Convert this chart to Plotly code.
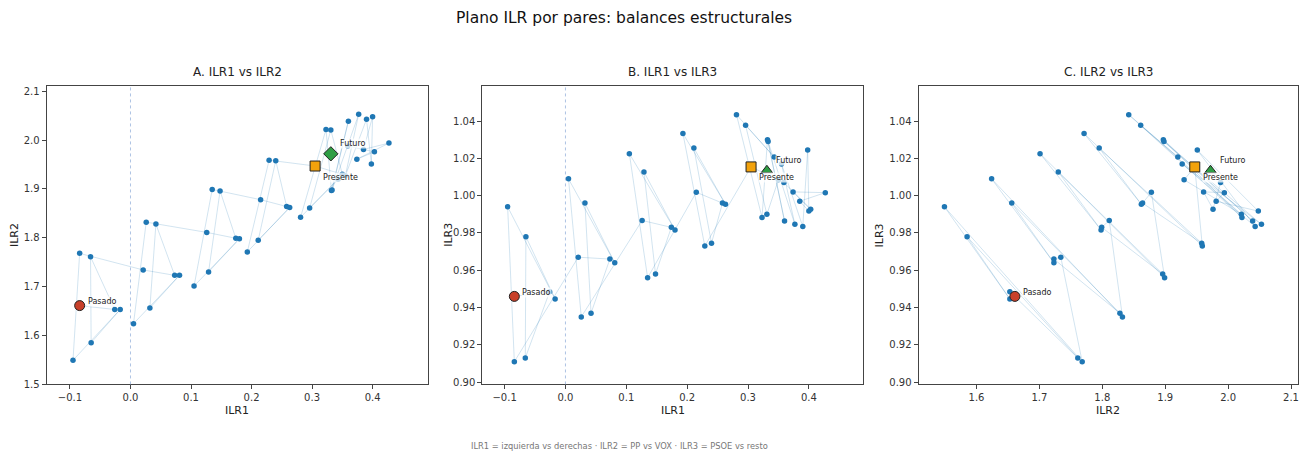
import plotly.graph_objects as go

# ---- data: trajectory of ILR coordinates (time order) ----
ilr1 = [-0.084, -0.026, -0.066, -0.065, -0.017, -0.095, -0.084,
        0.021, 0.073, 0.042, 0.032, 0.081, 0.005, 0.026,
        0.126, 0.174, 0.148, 0.129, 0.180, 0.105, 0.135,
        0.215, 0.258, 0.240, 0.211, 0.263, 0.193, 0.229,
        0.305, 0.350, 0.331, 0.296, 0.343, 0.281, 0.323,
        0.332, 0.360, 0.333, 0.377, 0.355, 0.390, 0.398, 0.400,
        0.385, 0.427, 0.374, 0.403, 0.359]
ilr2 = [1.661, 1.653, 1.761, 1.585, 1.653, 1.549, 1.768,
        1.734, 1.723, 1.828, 1.656, 1.723, 1.624, 1.832,
        1.811, 1.799, 1.896, 1.730, 1.798, 1.701, 1.899,
        1.878, 1.864, 1.958, 1.795, 1.862, 1.771, 1.959,
        1.947, 1.930, 2.021, 1.861, 1.920, 1.842, 2.022,
        1.897, 2.039, 1.898, 2.053, 1.927, 2.043, 1.951, 2.048,
        1.981, 1.994, 1.961, 1.976, 1.988]
ilr3 = [0.946, 0.9485, 0.913, 0.978, 0.9446, 0.994, 0.911,
        0.967, 0.966, 0.937, 0.996, 0.964, 1.009, 0.935,
        0.9867, 0.983, 0.958, 1.0127, 0.9816, 1.0225, 0.956,
        1.0018, 0.996, 0.9745, 1.0255, 0.9954, 1.0333, 0.973,
        1.0154, 1.0085, 0.990, 1.0377, 1.0207, 1.0434, 0.9883,
        1.030, 0.9864, 1.029, 0.9846, 1.017, 0.9834, 1.0244, 0.9917,
        0.997, 1.0016, 1.002, 0.9927, 1.007]

# ---- highlighted states ----
state_names = ["Pasado", "Presente", "Futuro"]
state_ilr1 = [-0.084, 0.305, 0.331]
state_ilr2 = [1.661, 1.947, 1.972]
state_ilr3 = [0.946, 1.0154, 1.0136]

panel_titles = ["A. ILR1 vs ILR2", "B. ILR1 vs ILR3", "C. ILR2 vs ILR3"]
axis_names = [("ILR1", "ILR2"), ("ILR1", "ILR3"), ("ILR2", "ILR3")]
footer = "ILR1 = izquierda vs derechas · ILR2 = PP vs VOX · ILR3 = PSOE vs resto"
title = "Plano ILR por pares: balances estructurales"

W, H = 1309, 457
FONT = "DejaVu Sans"

data_by_name = {"ILR1": ilr1, "ILR2": ilr2, "ILR3": ilr3}
state_by_name = {"ILR1": state_ilr1, "ILR2": state_ilr2, "ILR3": state_ilr3}

# layout geometry (pixels)
x_doms_px = [(46.7, 428.0), (482.7, 864.0), (919.3, 1299.3)]
y_dom_px = (86.7, 388.7)
x_ranges = [[-0.1385, 0.491], [-0.1366, 0.4895], [1.5079, 2.1116]]
y_ranges = [[1.4994, 2.1115], [0.8988, 1.0589], [0.8988, 1.0589]]
x_ticks = [[-0.1, 0.0, 0.1, 0.2, 0.3, 0.4], [-0.1, 0.0, 0.1, 0.2, 0.3, 0.4],
           [1.6, 1.7, 1.8, 1.9, 2.0, 2.1]]
y_ticks = [[1.5, 1.6, 1.7, 1.8, 1.9, 2.0, 2.1],
           [0.90, 0.92, 0.94, 0.96, 0.98, 1.00, 1.02, 1.04],
           [0.90, 0.92, 0.94, 0.96, 0.98, 1.00, 1.02, 1.04]]
x_fmt = [".1f", ".1f", ".1f"]
y_fmt = [".1f", ".2f", ".2f"]
ytitle_x_px = [14, 448, 880]

futuro_symbol = ["diamond", "triangle-up", "triangle-up"]
futuro_size = [11, 10, 10]
state_colors = ["#c8402a", "#f2a20c", "#2e9e44"]

fig = go.Figure()
annotations = []
shapes = []
ydom = [(H - y_dom_px[1]) / H, (H - y_dom_px[0]) / H]

for i in range(3):
    ax = "" if i == 0 else str(i + 1)
    xn, yn = axis_names[i]
    xs, ys = data_by_name[xn], data_by_name[yn]
    sx, sy = state_by_name[xn], state_by_name[yn]
    xref, yref = "x" + ax, "y" + ax

    fig.add_trace(go.Scatter(x=xs, y=ys, mode="lines", xaxis=xref, yaxis=yref,
                             line=dict(color="rgba(31,119,180,0.2)", width=1),
                             hoverinfo="skip", showlegend=False))
    fig.add_trace(go.Scatter(x=xs, y=ys, mode="markers", xaxis=xref, yaxis=yref,
                             marker=dict(color="#1f77b4", size=5.5),
                             showlegend=False))
    symbols = ["circle", "square", futuro_symbol[i]]
    sizes = [10, 10, futuro_size[i]]
    for k in range(3):
        fig.add_trace(go.Scatter(x=[sx[k]], y=[sy[k]], mode="markers",
                                 xaxis=xref, yaxis=yref,
                                 marker=dict(color=state_colors[k], size=sizes[k],
                                             symbol=symbols[k],
                                             line=dict(color="#222", width=1)),
                                 name=state_names[k], showlegend=False))
    # state labels
    offsets = [(7, 4), (7, -11), (8, 10)]
    for k in range(3):
        annotations.append(dict(x=sx[k], y=sy[k], xref=xref, yref=yref,
                                text=state_names[k], showarrow=False,
                                xanchor="left", yanchor="middle",
                                xshift=offsets[k][0], yshift=offsets[k][1],
                                font=dict(family=FONT, size=8, color="#222"),
                                bgcolor="rgba(255,255,255,0.75)", borderpad=0))

    xd = [x_doms_px[i][0] / W, x_doms_px[i][1] / W]
    common = dict(showline=True, mirror=True, linecolor="#444", linewidth=1,
                  ticks="outside", ticklen=4, tickcolor="#444", tickwidth=1,
                  showgrid=False, zeroline=False,
                  tickfont=dict(family=FONT, size=10, color="#333"))
    fig.update_layout(**{
        "xaxis" + ax: dict(domain=xd, range=x_ranges[i], tickvals=x_ticks[i],
                           tickformat=x_fmt[i], anchor=yref, **common),
        "yaxis" + ax: dict(domain=ydom, range=y_ranges[i], tickvals=y_ticks[i],
                           tickformat=y_fmt[i], anchor=xref, **common),
    })

    # zero reference line for ILR1 panels
    if xn == "ILR1":
        shapes.append(dict(type="line", xref=xref, yref="paper", x0=0, x1=0,
                           y0=ydom[0], y1=ydom[1],
                           line=dict(color="rgba(140,170,215,0.7)", width=1, dash="dot")))

    cx = (xd[0] + xd[1]) / 2
    annotations.append(dict(x=cx, y=(H - 73) / H, xref="paper", yref="paper",
                            text=panel_titles[i], showarrow=False,
                            xanchor="center", yanchor="middle",
                            font=dict(family=FONT, size=12, color="#222")))
    annotations.append(dict(x=cx, y=(H - 415) / H, xref="paper", yref="paper",
                            text=xn, showarrow=False, xanchor="center", yanchor="middle",
                            font=dict(family=FONT, size=11, color="#222")))
    annotations.append(dict(x=ytitle_x_px[i] / W, y=(ydom[0] + ydom[1]) / 2,
                            xref="paper", yref="paper", text=yn, showarrow=False,
                            textangle=-90, xanchor="center", yanchor="middle",
                            font=dict(family=FONT, size=11, color="#222")))

annotations.append(dict(x=624.5 / W, y=(H - 18) / H, xref="paper", yref="paper",
                        text=title, showarrow=False, xanchor="center", yanchor="middle",
                        font=dict(family=FONT, size=15.5, color="#111")))
annotations.append(dict(x=620 / W, y=(H - 451) / H, xref="paper", yref="paper",
                        text=footer, showarrow=False, xanchor="center", yanchor="middle",
                        font=dict(family=FONT, size=8.3, color="#777")))

fig.update_layout(width=W, height=H, margin=dict(l=0, r=0, t=0, b=0),
                  plot_bgcolor="white", paper_bgcolor="white",
                  annotations=annotations, shapes=shapes, showlegend=False,
                  font=dict(family=FONT))

fig.write_html("out.html", config={"displayModeBar": False},
               post_script="document.body.style.margin='0';document.body.style.overflow='hidden';")
